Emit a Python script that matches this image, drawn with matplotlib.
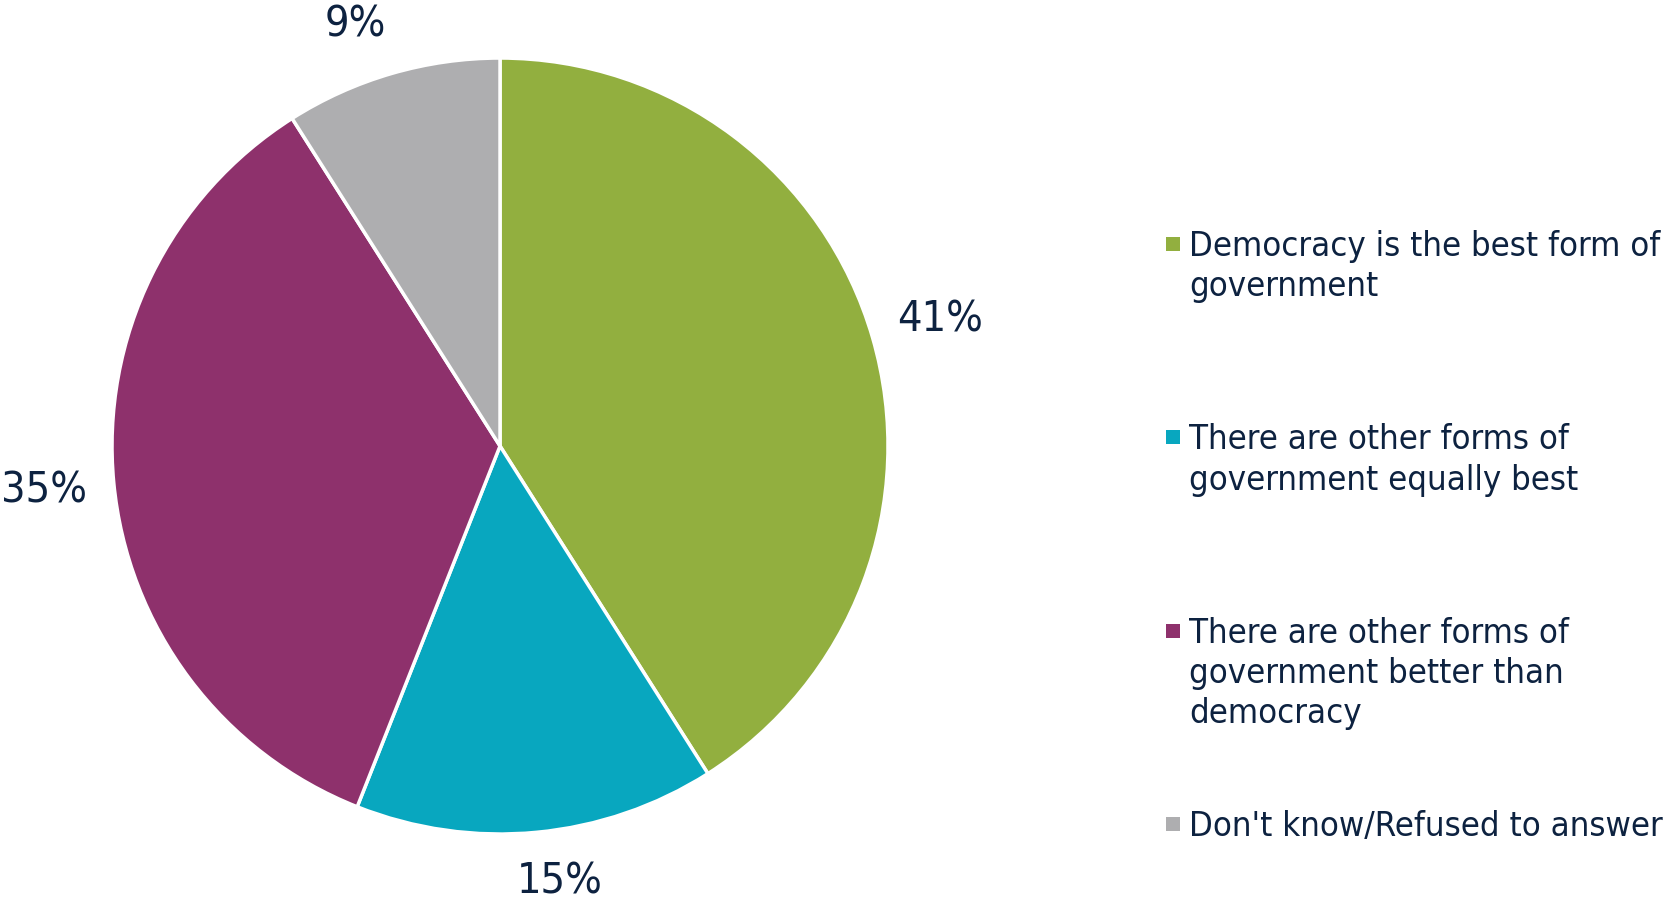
import matplotlib
matplotlib.use("Agg")
import numpy as np
import matplotlib.pyplot as plt
from matplotlib.patches import Rectangle

labels = [
    "Democracy is the best form of\ngovernment",
    "There are other forms of\ngovernment equally best",
    "There are other forms of\ngovernment better than\ndemocracy",
    "Don't know/Refused to answer",
]
values = [41, 15, 35, 9]
colors = ["#92AF3F", "#08A7BF", "#8E316C", "#AEAEB0"]
text_color = "#0D2240"
label_dist = [1.18, 1.13, 1.18, 1.15]
label_shift = [0, 2.4, 0, 2.7]  # degrees

plt.rcParams['font.family'] = ['DejaVu Sans']
plt.rcParams['font.stretch'] = 'condensed'

fig = plt.figure(figsize=(16.67, 9.04), dpi=100)
ax = fig.add_axes([0.0672, 0.0763, 0.4655, 0.8584])

wedges, texts, autotexts = ax.pie(
    values, colors=colors, startangle=90, counterclock=False,
    autopct="%d%%", radius=1,
    wedgeprops=dict(edgecolor="white", linewidth=2.5),
    textprops=dict(color=text_color, fontsize=31),
)
for w, t, d, s in zip(wedges, autotexts, label_dist, label_shift):
    ang = np.deg2rad((w.theta1 + w.theta2) / 2 + s)
    t.set_position((d * np.cos(ang), d * np.sin(ang)))
    t.set_clip_on(False)
ax.set_xlim(-1, 1)
ax.set_ylim(-1, 1)
ax.set_aspect("equal")
ax.axis("off")

# legend drawn by hand so entries stay evenly spaced
W, H = 1667, 904
for i, (lab, col) in enumerate(zip(labels, colors)):
    yc = 245 + i * 193.3
    fig.patches.append(Rectangle((1166 / W, 1 - (yc + 7) / H), 14 / W, 14 / H,
                                 facecolor=col, edgecolor="none",
                                 transform=fig.transFigure))
    fig.text(1189 / W, 1 - (yc - 15) / H, lab, ha="left", va="top",
             fontsize=24.8, color=text_color, linespacing=1.28)

fig.savefig("out.png", dpi=100, facecolor="white")
